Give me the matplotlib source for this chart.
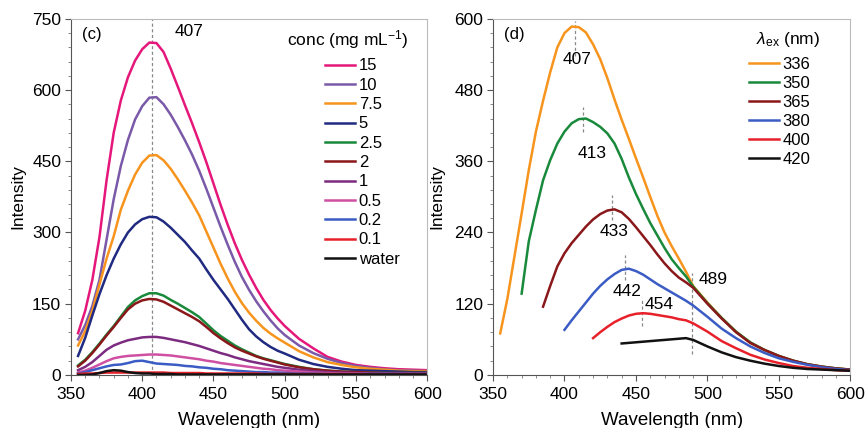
import numpy as np
import matplotlib
matplotlib.use("Agg")
import matplotlib.pyplot as plt
from matplotlib.ticker import MultipleLocator, AutoMinorLocator

plt.rcParams['font.family'] = ['Liberation Sans', 'DejaVu Sans']
plt.rcParams['mathtext.fontset'] = 'custom'
plt.rcParams['mathtext.rm'] = 'Liberation Sans'
plt.rcParams['mathtext.it'] = 'Liberation Sans:italic'

# ---- panel (c): emission spectra vs concentration ----
wl_c = list(range(355, 501, 5)) + list(range(510, 601, 10))

conc_labels = ['15', '10', '7.5', '5', '2.5', '2', '1', '0.5', '0.2', '0.1', 'water']
conc_colors = ['#e5177b', '#7a5aa8', '#f7941d', '#1f2a80', '#19893b', '#8a1719',
               '#7c2b80', '#cf4fa3', '#3a5cc4', '#e8202a', '#111111']

c15 = [88, 135, 200, 290, 410, 510, 578, 627, 662, 686, 700, 699, 680, 645, 607, 568, 530, 490,
       448, 403, 358, 316, 277, 242, 211, 183, 158, 137, 119, 103,
       76, 56, 38, 28, 21, 17, 14, 12, 11, 10]
c10 = [75, 105, 145, 200, 285, 370, 440, 495, 538, 566, 584, 585, 570, 548, 522, 494, 464, 430,
       392, 352, 312, 274, 238, 206, 179, 155, 134, 115, 98, 84,
       62, 46, 34, 25, 19, 15, 12, 10, 9, 8]
c7_5 = [62, 92, 135, 190, 245, 292, 348, 388, 422, 447, 462, 463, 452, 434, 412, 388, 363, 336,
        302, 268, 234, 203, 175, 151, 131, 114, 99, 87, 77, 68,
        50, 37, 27, 21, 16, 13, 11, 9, 8, 8]
c5 = [40, 78, 125, 170, 210, 245, 275, 300, 317, 328, 333, 332, 323, 310, 295, 280, 262, 245,
      222, 200, 180, 160, 138, 116, 96, 81, 69, 59, 51, 45,
      32, 23, 17, 13, 10, 9, 8, 7, 6, 6]
c2_5 = [20, 32, 48, 66, 85, 103, 123, 143, 157, 166, 172, 172, 167, 158, 150, 141, 132, 122,
        108, 94, 82, 72, 62, 54, 47, 40, 35, 31, 27, 23,
        17, 12, 9, 7, 6, 5, 4, 4, 4, 4]
c2 = [18, 30, 46, 64, 83, 101, 120, 138, 150, 157, 160, 159, 154, 146, 138, 130, 122, 113,
      101, 88, 77, 67, 58, 51, 45, 39, 34, 30, 26, 22,
      16, 12, 9, 7, 6, 5, 4, 4, 4, 4]
c1 = [10, 17, 27, 40, 53, 62, 68, 73, 76, 79, 80, 80, 78, 75, 72, 69, 65, 61,
      56, 51, 46, 42, 37, 33, 29, 26, 23, 20, 17, 15,
      11, 8, 6, 5, 4, 3, 3, 3, 3, 3]
c0_5 = [5, 9, 15, 22, 29, 35, 38, 40, 41, 42, 43, 43, 42, 41, 39, 37, 35, 33,
        30, 28, 25, 23, 21, 19, 17, 15, 13, 12, 10, 9,
        7, 5, 4, 3, 3, 2, 2, 2, 2, 2]
c0_2 = [3, 6, 10, 14, 18, 21, 22, 25, 29, 30, 27, 24, 23, 22, 21, 19, 18, 16,
        15, 13, 12, 10, 9, 8, 7, 6, 6, 5, 5, 4,
        3, 3, 2, 2, 2, 2, 2, 2, 2, 2]
c0_1 = [2, 3, 3, 4, 5, 5, 5, 5, 5, 5, 5, 5, 5, 4, 4, 4, 4, 4,
        3, 3, 3, 3, 3, 3, 3, 3, 2, 2, 2, 2,
        2, 2, 2, 2, 2, 1, 1, 1, 1, 1]
water = [0, 0, 1, 4, 8, 10, 9, 6, 4, 3, 3, 2, 2, 2, 1, 1, 1, 1,
         1, 1, 1, 1, 1, 1, 1, 1, 1, 1, 1, 1,
         1, 1, 1, 1, 1, 1, 1, 1, 1, 1]
conc_series = [c15, c10, c7_5, c5, c2_5, c2, c1, c0_5, c0_2, c0_1, water]

# ---- panel (d): emission spectra vs excitation wavelength ----
wl_d = list(range(355, 491, 5)) + list(range(500, 601, 10))

ex_labels = ['336', '350', '365', '380', '400', '420']
ex_colors = ['#f7941d', '#19893b', '#8a1719', '#3a5cc4', '#e8202a', '#111111']

ex336 = [70, 128, 200, 272, 345, 410, 462, 510, 552, 576, 587, 586, 577, 557, 532, 500, 464, 430,
         398, 365, 333, 300, 268, 240, 217, 196, 174, 150,
         122, 96, 73, 54, 42, 32, 24, 18, 14, 11, 9]
ex350 = [137, 225, 278, 328, 362, 390, 410, 424, 431, 432, 426, 418, 407, 390, 364, 333, 305,
         280, 256, 235, 214, 195, 180, 166, 149,
         121, 96, 73, 55, 42, 32, 24, 18, 14, 11, 9]
ex365 = [115, 150, 183, 205, 222, 236, 250, 262, 271, 277, 279, 274, 263, 249, 234, 219, 203,
         188, 175, 164, 156, 147,
         120, 95, 72, 54, 42, 32, 24, 18, 14, 11, 9]
ex380 = [76, 92, 107, 122, 137, 150, 161, 170, 177, 179, 175, 169, 161, 153, 146, 139, 132,
         125, 117,
         98, 78, 62, 48, 37, 28, 22, 17, 13, 10, 8]
ex400 = [62, 72, 81, 89, 95, 100, 103, 104, 103, 101, 99, 97, 94, 92, 87,
         73, 57, 45, 34, 26, 20, 15, 12, 10, 8, 7]
ex420 = [53, 54, 55, 56, 57, 58, 59, 60, 61, 62, 59,
         48, 38, 30, 24, 19, 15, 12, 10, 9, 8, 7]
ex_series = [ex336, ex350, ex365, ex380, ex400, ex420]

peaks_d = [407, 413, 433, 442, 454, 489]
peak_line_lo = [538, 409, 261, 160, 82, 36]
peak_line_hi = [597, 451, 303, 202, 129, 171]
peak_text_x = [408.5, 419, 434.5, 443.5, 466, 504]
peak_text_y = [532, 373, 241, 141, 119, 161]

fig = plt.figure(figsize=(8.65, 4.28), dpi=100)
ax1 = fig.add_axes([0.082, 0.124, 0.412, 0.832])
ax2 = fig.add_axes([0.570, 0.124, 0.413, 0.832])


def style_axes(ax, ymax, ystep, ylab_x):
    ax.set_xlim(350, 600)
    ax.set_ylim(0, ymax)
    ax.xaxis.set_major_locator(MultipleLocator(50))
    ax.xaxis.set_minor_locator(MultipleLocator(10))
    ax.yaxis.set_major_locator(MultipleLocator(ystep))
    ax.yaxis.set_minor_locator(AutoMinorLocator(5))
    ax.tick_params(which='major', direction='out', length=4, width=0.8, labelsize=12.5,
                   color='#555555', pad=3)
    ax.tick_params(axis='x', which='major', pad=5)
    ax.tick_params(which='minor', direction='out', length=2.5, width=0.6, color='#777777')
    for s in ['top', 'right']:
        ax.spines[s].set_color('#bbbbbb')
    for s in ['left', 'bottom']:
        ax.spines[s].set_color('#555555')
    ax.set_xlabel('Wavelength (nm)', fontsize=13.5)
    ax.set_ylabel('Intensity', fontsize=12.5)
    ax.xaxis.set_label_coords(0.5, -0.127)
    ax.yaxis.set_label_coords(ylab_x, 0.5)
    ax.xaxis.label.set_va('center')
    ax.yaxis.label.set_va('center')


# panel (c)
for lab, col, vals in zip(conc_labels, conc_colors, conc_series):
    ax1.plot(wl_c, vals, color=col, lw=1.8, label=lab)
ax1.axvline(407, color='#888888', lw=0.9, ls=(0, (2.5, 2)), zorder=0)
ax1.text(433, 724, '407', fontsize=12.5, ha='center', va='center')
ax1.text(0.032, 0.955, '(c)', transform=ax1.transAxes, fontsize=12, va='center')
style_axes(ax1, 750, 150, -0.149)
ax1.text(0.776, 0.941, 'conc (mg mL$^{-1}$)', transform=ax1.transAxes, fontsize=12.5,
         ha='center', va='center')
ax1.legend(loc='upper right', frameon=False, fontsize=12, handlelength=1.8,
           handletextpad=0.2, labelspacing=0.26, borderpad=0.0, borderaxespad=0.0,
           bbox_to_anchor=(0.922, 0.889))

# panel (d)
for lab, col, vals in zip(ex_labels, ex_colors, ex_series):
    ax2.plot(wl_d[-len(vals):], vals, color=col, lw=1.8, label=lab)
for px, lo, hi, tx, ty in zip(peaks_d, peak_line_lo, peak_line_hi, peak_text_x, peak_text_y):
    ax2.plot([px, px], [lo, hi], color='#888888', lw=0.9, ls=(0, (2.5, 2)), zorder=0)
    ax2.text(tx, ty, str(px), fontsize=12.5, ha='center', va='center')
ax2.text(0.032, 0.955, '(d)', transform=ax2.transAxes, fontsize=12, va='center')
style_axes(ax2, 600, 120, -0.157)
ax2.text(0.826, 0.941, '$\\lambda_{\\mathrm{ex}}$ (nm)', transform=ax2.transAxes,
         fontsize=12.5, ha='center', va='center')
ax2.legend(loc='upper right', frameon=False, fontsize=12, handlelength=1.8,
           handletextpad=0.2, labelspacing=0.24, borderpad=0.0, borderaxespad=0.0,
           bbox_to_anchor=(0.888, 0.892))

fig.savefig('out.png', dpi=100)
